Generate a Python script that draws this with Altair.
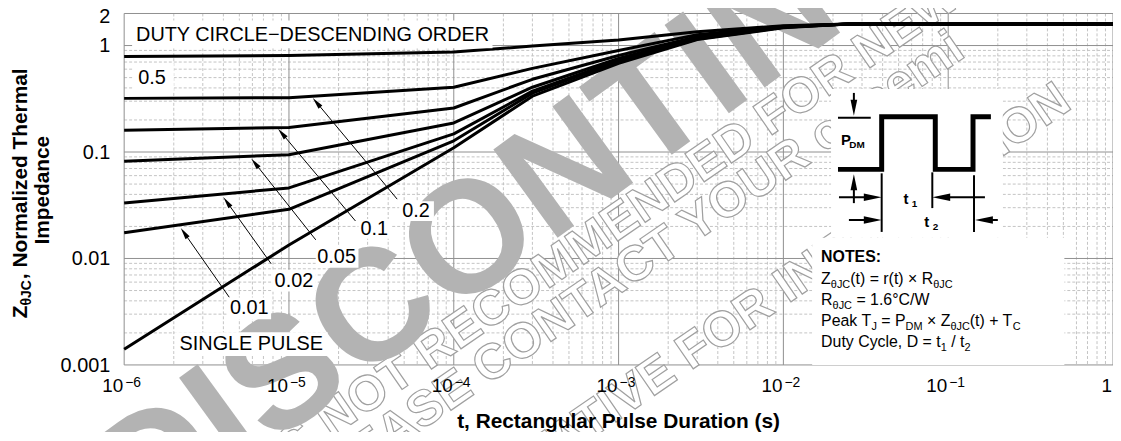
import math
import altair as alt
import pandas as pd

# ---------------- data ----------------
pulse_t = [1e-6, 1e-5, 1e-4, 3e-4, 1e-3, 3e-3, 1e-2, 2.5e-2, 1.0]
duty_names = ["0.5", "0.2", "0.1", "0.05", "0.02", "0.01", "Single pulse"]
z_d50 = [0.790, 0.807, 0.870, 0.989, 1.130, 1.350, 1.536, 1.593, 1.593]
z_d20 = [0.319, 0.324, 0.406, 0.610, 0.898, 1.266, 1.519, 1.593, 1.593]
z_d10 = [0.160, 0.170, 0.259, 0.482, 0.807, 1.213, 1.503, 1.593, 1.593]
z_d05 = [0.0817, 0.0944, 0.1875, 0.406, 0.756, 1.187, 1.503, 1.593, 1.593]
z_d02 = [0.0332, 0.0460, 0.148, 0.373, 0.725, 1.162, 1.487, 1.593, 1.593]
z_d01 = [0.01743, 0.0290, 0.1274, 0.357, 0.709, 1.150, 1.487, 1.593, 1.593]
z_single = [0.001406, 0.01338, 0.1097, 0.3347, 0.680, 1.137, 1.471, 1.593, 1.593]

x_tick_values = [1e-6, 1e-5, 1e-4, 1e-3, 1e-2, 1e-1, 1.0]
x_tick_base = ["10", "10", "10", "10", "10", "10", "1"]
x_tick_exp = ["\u22126", "\u22125", "\u22124", "\u22123", "\u22122", "\u22121", ""]
y_tick_values = [0.001, 0.01, 0.1, 1.0, 2.0]
y_tick_text = ["0.001", "0.01", "0.1", "1", "2"]

x_major = [1e-6, 1e-5, 1e-4, 1e-3, 1e-2, 1e-1, 1.0]
x_minor = [k * d for d in x_major[:-1] for k in range(2, 10)]
y_major = [0.001, 0.01, 0.1, 1.0, 2.0]
y_minor = [k * d for d in [0.001, 0.01, 0.1] for k in range(2, 10)]

# ---------------- layout ----------------
FONT = "Liberation Sans"
W, H = 996, 354
PAD = {"left": 117, "top": 4, "right": 0, "bottom": 66}
X_DOM = [1e-6, 1.0]
Y_DOM = [0.001, 2.0]
xs = alt.Scale(type="log", domain=X_DOM, nice=False)
ys = alt.Scale(type="log", domain=Y_DOM, nice=False)
OX, OY = 125, 12  # page position of the plot origin


def t_at(px):
    a, b = math.log10(X_DOM[0]), math.log10(X_DOM[1])
    return 10 ** (a + (px - OX) / W * (b - a))


def z_at(py):
    a, b = math.log10(Y_DOM[0]), math.log10(Y_DOM[1])
    return 10 ** (b - (py - OY) / H * (b - a))


REG = {' ': 278, '(': 333, ')': 333, '+': 584, ',': 278, '.': 278, '/': 278, ':': 278,
       '=': 584, '×': 584, '°': 400, 'θ': 556, '−': 584,
       'C': 722, 'D': 722, 'J': 500, 'M': 833, 'P': 667, 'R': 722, 'T': 611, 'W': 944, 'Z': 611,
       'a': 556, 'c': 500, 'e': 556, 'k': 500, 'l': 222, 'r': 333, 't': 278, 'u': 556, 'y': 500}
BOLD = {' ': 278, ',': 278, ':': 333, 'θ': 611, 'C': 722, 'D': 722, 'E': 667, 'I': 278,
        'J': 556, 'M': 833, 'N': 722, 'O': 778, 'S': 667, 'T': 611, 'Z': 611,
        'a': 556, 'c': 556, 'd': 611, 'e': 556, 'h': 611, 'i': 278, 'l': 278, 'm': 889,
        'n': 611, 'o': 611, 'p': 611, 'r': 389, 'z': 500}


def text_w(s, size, bold=False):
    tbl = BOLD if bold else REG
    return sum(tbl.get(ch, 556) for ch in s) * size / 1000.0


# ---------------- grid ----------------
def vrules(vals, **kw):
    return alt.Chart(pd.DataFrame({"v": vals})).mark_rule(**kw).encode(
        x=alt.X("v:Q", scale=xs, axis=None), y=alt.value(0), y2=alt.value(H))


def hrules(vals, **kw):
    return alt.Chart(pd.DataFrame({"v": vals})).mark_rule(**kw).encode(
        y=alt.Y("v:Q", scale=ys, axis=None), x=alt.value(0), x2=alt.value(W))


grid = [
    vrules(x_minor, color="#c4c4c4", strokeWidth=1, strokeDash=[3, 2]),
    hrules(y_minor, color="#c4c4c4", strokeWidth=1, strokeDash=[3, 2]),
    vrules(x_major, color="#8f8f8f", strokeWidth=1),
    hrules(y_major, color="#8f8f8f", strokeWidth=1),
]

# ---------------- watermark ----------------
def wm(text, px, py, size, angle, **kw):
    return alt.Chart(pd.DataFrame({"s": [text]})).mark_text(
        font=FONT, fontSize=size, fontWeight="bold", angle=angle, align="left",
        baseline="alphabetic", **kw).encode(
        text="s:N", x=alt.value(px - OX), y=alt.value(py - OY))


outline = dict(fill="white", stroke="#a0a0a0", strokeWidth=1.2)
watermark = [
    wm("THIS DEVICE IS NOT RECOMMENDED FOR NEW DESIGN.", 13, 660, 50, 325.5, **outline),
    wm("PLEASE CONTACT YOUR onsemi", 314, 508, 50, 325.5, **outline),
    wm("REPRESENTATIVE FOR INFORMATION", 317, 632, 50, 325.5, **outline),
    wm("DISCONTINUED", 143, 542, 160, 324, fill="#b3b3b3"),
]

# ---------------- curves ----------------
rows = []
for name, zs in zip(duty_names, [z_d50, z_d20, z_d10, z_d05, z_d02, z_d01, z_single]):
    for i, (t, z) in enumerate(zip(pulse_t, zs)):
        rows.append({"duty": name, "i": i, "t": t, "z": z})
curve_df = pd.DataFrame(rows)

curves = alt.Chart(curve_df).mark_line(color="black", strokeWidth=3, strokeJoin="round").encode(
    x=alt.X("t:Q", scale=xs, axis=alt.Axis(
        labels=False, ticks=False, grid=False, domainColor="black", domainWidth=3,
        title=None, zindex=3)),
    y=alt.Y("z:Q", scale=ys, axis=alt.Axis(
        labels=False, ticks=False, grid=False, domainColor="black", domainWidth=3,
        title=None, zindex=3)),
    detail="duty:N", order="i:Q")

# ---------------- arrows ----------------
def arrow_rows(items):
    lines, heads = [], []
    for tipx, tipy, tx, ty, L in items:
        dx, dy = tipx - tx, tipy - ty
        n = math.hypot(dx, dy)
        ux, uy = dx / n, dy / n
        cx, cy = tipx - ux * L / 2, tipy - uy * L / 2
        ang = math.degrees(math.atan2(dx, -dy)) % 360
        lines.append({"t1": t_at(tx), "z1": z_at(ty), "t2": t_at(cx), "z2": z_at(cy)})
        heads.append({"t": t_at(cx), "z": z_at(cy), "ang": ang, "sz": L * L})
    return pd.DataFrame(lines), pd.DataFrame(heads)


HEAD = "M0,-1L0.42,1L-0.42,1Z"


def arrows(items, width):
    ldf, hdf = arrow_rows(items)
    ln = alt.Chart(ldf).mark_rule(color="black", strokeWidth=width).encode(
        x=alt.X("t1:Q", scale=xs, axis=None), y=alt.Y("z1:Q", scale=ys, axis=None),
        x2="t2:Q", y2="z2:Q")
    hd = alt.Chart(hdf).mark_point(shape=HEAD, filled=True, fill="black", opacity=1,
                                   strokeWidth=0).encode(
        x=alt.X("t:Q", scale=xs, axis=None), y=alt.Y("z:Q", scale=ys, axis=None),
        angle=alt.Angle("ang:Q", scale=None), size=alt.Size("sz:Q", scale=None))
    return [ln, hd]


curve_arrows = arrows([
    (315, 97, 400, 199, 12),
    (280, 128, 358, 221, 12),
    (253, 158, 318, 240, 12),
    (225, 197, 273, 264, 12),
    (182, 228, 231, 298, 12),
], 1)

# ---------------- white boxes ----------------
boxes = [(133, 19, 496, 47), (134, 62, 175, 90), (402, 201, 437, 221), (361, 219, 394, 239),
         (318, 246, 361, 268), (274, 270, 318, 292), (229, 298, 273, 320), (176, 333, 330, 357),
         (837, 88, 1010, 238), (818, 238, 1072, 366)]
box_df = pd.DataFrame([{"t1": t_at(a), "z1": z_at(b), "t2": t_at(c), "z2": z_at(d)}
                       for a, b, c, d in boxes])
box_layer = alt.Chart(box_df).mark_rect(color="white").encode(
    x=alt.X("t1:Q", scale=xs, axis=None), y=alt.Y("z1:Q", scale=ys, axis=None),
    x2="t2:Q", y2="z2:Q")

# ---------------- curve labels ----------------
labels = [("0.5", 153, 77), ("0.2", 419, 211), ("0.1", 377, 229), ("0.05", 339, 257),
          ("0.02", 296, 281), ("0.01", 251, 309), ("SINGLE PULSE", 253, 345)]
lab_df = pd.DataFrame([{"s": s, "t": t_at(x), "z": z_at(y)} for s, x, y in labels])
lab_layer = alt.Chart(lab_df).mark_text(font=FONT, fontSize=20, color="black",
                                        baseline="middle", align="center").encode(
    x=alt.X("t:Q", scale=xs, axis=None), y=alt.Y("z:Q", scale=ys, axis=None), text="s:N")
duty_title = alt.Chart(pd.DataFrame({"s": ["DUTY CIRCLE\u2212DESCENDING ORDER"],
                                     "t": [t_at(137)], "z": [z_at(40)]})).mark_text(
    font=FONT, fontSize=20, color="black", baseline="alphabetic", align="left").encode(
    x=alt.X("t:Q", scale=xs, axis=None), y=alt.Y("z:Q", scale=ys, axis=None), text="s:N")

# ---------------- tick labels ----------------
xt_df = pd.DataFrame({"v": x_tick_values, "b": x_tick_base, "e": x_tick_exp})
xt_base = alt.Chart(xt_df).mark_text(font=FONT, fontSize=19, color="black", align="right",
                                     baseline="alphabetic", dx=-1).encode(
    x=alt.X("v:Q", scale=xs, axis=None), y=alt.value(H + 27), text="b:N")
xt_exp = alt.Chart(xt_df).mark_text(font=FONT, fontSize=14, color="black", align="left",
                                    baseline="alphabetic", dx=1).encode(
    x=alt.X("v:Q", scale=xs, axis=None), y=alt.value(H + 22), text="e:N")
yt_df = pd.DataFrame({"v": y_tick_values, "s": y_tick_text})
yt_main = alt.Chart(yt_df.iloc[:-1]).mark_text(font=FONT, fontSize=20, color="black",
                                               align="right", baseline="middle", dy=1).encode(
    y=alt.Y("v:Q", scale=ys, axis=None), x=alt.value(-14), text="s:N")
yt_top = alt.Chart(yt_df.iloc[-1:]).mark_text(font=FONT, fontSize=20, color="black",
                                              align="right", baseline="middle", dy=4).encode(
    y=alt.Y("v:Q", scale=ys, axis=None), x=alt.value(-14), text="s:N")

# ---------------- axis titles ----------------
xtitle = alt.Chart(pd.DataFrame({"s": ["t, Rectangular Pulse Duration (s)"],
                                 "t": [t_at(623)], "z": [z_at(424)]})).mark_text(
    font=FONT, fontWeight="bold", fontSize=21, color="black", align="center",
    baseline="middle").encode(
    x=alt.X("t:Q", scale=xs, axis=None), y=alt.Y("z:Q", scale=ys, axis=None), text="s:N")

yt_rows = []
cy = 193.0
parts1 = [("Z", 21, 0), ("\u03b8JC", 14, 4), (", Normalized Thermal", 21, 0)]
total = sum(text_w(s, fs, True) for s, fs, _ in parts1)
y = cy + total / 2
for s, fs, shift in parts1:
    yt_rows.append({"s": s, "fs": fs, "t": t_at(27 + shift), "z": z_at(y)})
    y -= text_w(s, fs, True)
ytitle1 = alt.Chart(pd.DataFrame(yt_rows)).mark_text(
    font=FONT, fontWeight="bold", color="black", angle=270,
    align="left", baseline="alphabetic").encode(
    x=alt.X("t:Q", scale=xs, axis=None), y=alt.Y("z:Q", scale=ys, axis=None), text="s:N",
    size=alt.Size("fs:Q", scale=None))
ytitle2 = alt.Chart(pd.DataFrame({"s": ["Impedance"], "t": [t_at(49)], "z": [z_at(190)]})).mark_text(
    font=FONT, fontWeight="bold", fontSize=21, color="black", angle=270, align="center",
    baseline="alphabetic").encode(
    x=alt.X("t:Q", scale=xs, axis=None), y=alt.Y("z:Q", scale=ys, axis=None), text="s:N")

# ---------------- pulse inset ----------------
wave_px = [(844, 169), (888, 169), (888, 116), (942, 116), (942, 169), (980, 169), (980, 116), (998, 116)]
wave_df = pd.DataFrame([{"i": i, "t": t_at(a), "z": z_at(b)} for i, (a, b) in enumerate(wave_px)])
wave = alt.Chart(wave_df).mark_line(color="black", strokeWidth=5, strokeJoin="miter",
                                    strokeCap="butt").encode(
    x=alt.X("t:Q", scale=xs, axis=None), y=alt.Y("z:Q", scale=ys, axis=None), order="i:Q")
thin = [(844, 117, 877, 117), (888, 173, 888, 232), (939, 172, 939, 208), (981, 175, 981, 232)]
thin_df = pd.DataFrame([{"t1": t_at(a), "z1": z_at(b), "t2": t_at(c), "z2": z_at(d)}
                        for a, b, c, d in thin])
thin_layer = alt.Chart(thin_df).mark_rule(color="black", strokeWidth=2).encode(
    x=alt.X("t1:Q", scale=xs, axis=None), y=alt.Y("z1:Q", scale=ys, axis=None),
    x2="t2:Q", y2="z2:Q")
inset_arrows = arrows([
    (860, 115, 860, 92, 16),
    (860, 174, 860, 203, 16),
    (888, 197, 845, 197, 18),
    (939, 197, 992, 197, 18),
    (888, 220, 855, 220, 18),
    (982, 220, 1005, 220, 18),
], 2)


def seg_rows(parts, x0, base, bold):
    out = []
    x = x0
    for txt, fs, drop in parts:
        lead = len(txt) - len(txt.lstrip(" "))
        core = txt.strip(" ")
        trail = len(txt) - lead - len(core)
        x += text_w(" " * lead, fs, bold)
        out.append({"s": core, "fs": fs, "t": t_at(x), "z": z_at(base + drop)})
        x += text_w(core, fs, bold) + text_w(" " * trail, fs, bold)
    return out


inset_bold = []
inset_bold += seg_rows([("P", 15, 0), ("DM", 10, 3)], 847, 144, True)
inset_bold += seg_rows([("t", 15, 0), ("1", 10, 3)], 910, 204, True)
inset_bold += seg_rows([("t", 15, 0), ("2", 10, 3)], 931, 227, True)
inset_bold += seg_rows([("NOTES:", 16, 0)], 827, 262, True)

NS, SS, SD = 16, 11, 4
note_lines = [
    [("Z", NS, 0), ("\u03b8JC", SS, SD), ("(t) = r(t) \u00d7 R", NS, 0), ("\u03b8JC", SS, SD)],
    [("R", NS, 0), ("\u03b8JC", SS, SD), (" = 1.6\u00b0C/W", NS, 0)],
    [("Peak T", NS, 0), ("J", SS, SD), (" = P", NS, 0), ("DM", SS, SD), (" \u00d7 Z", NS, 0),
     ("\u03b8JC", SS, SD), ("(t) + T", NS, 0), ("C", SS, SD)],
    [("Duty Cycle, D = t", NS, 0), ("1", SS, SD), (" / t", NS, 0), ("2", SS, SD)],
]
note_rows = []
for k, parts in enumerate(note_lines):
    note_rows += seg_rows(parts, 827, 284 + k * 21.3, False)

bold_layer = alt.Chart(pd.DataFrame(inset_bold)).mark_text(
    font=FONT, fontWeight="bold", color="black", align="left", baseline="alphabetic").encode(
    x=alt.X("t:Q", scale=xs, axis=None), y=alt.Y("z:Q", scale=ys, axis=None), text="s:N",
    size=alt.Size("fs:Q", scale=None))
note_layer = alt.Chart(pd.DataFrame(note_rows)).mark_text(
    font=FONT, color="black", align="left", baseline="alphabetic").encode(
    x=alt.X("t:Q", scale=xs, axis=None), y=alt.Y("z:Q", scale=ys, axis=None), text="s:N",
    size=alt.Size("fs:Q", scale=None))

layers = (grid + watermark + [curves] + curve_arrows + [box_layer, lab_layer, duty_title,
          xt_base, xt_exp, yt_main, yt_top, xtitle, ytitle1, ytitle2, wave, thin_layer]
          + inset_arrows + [bold_layer, note_layer])

chart = alt.layer(*layers).properties(
    width=W, height=H, padding=PAD, autosize=alt.AutoSizeParams(type="none"),
    background="white",
).configure_view(stroke=None)

chart.save("out.html", embed_options={"renderer": "svg", "actions": False})
